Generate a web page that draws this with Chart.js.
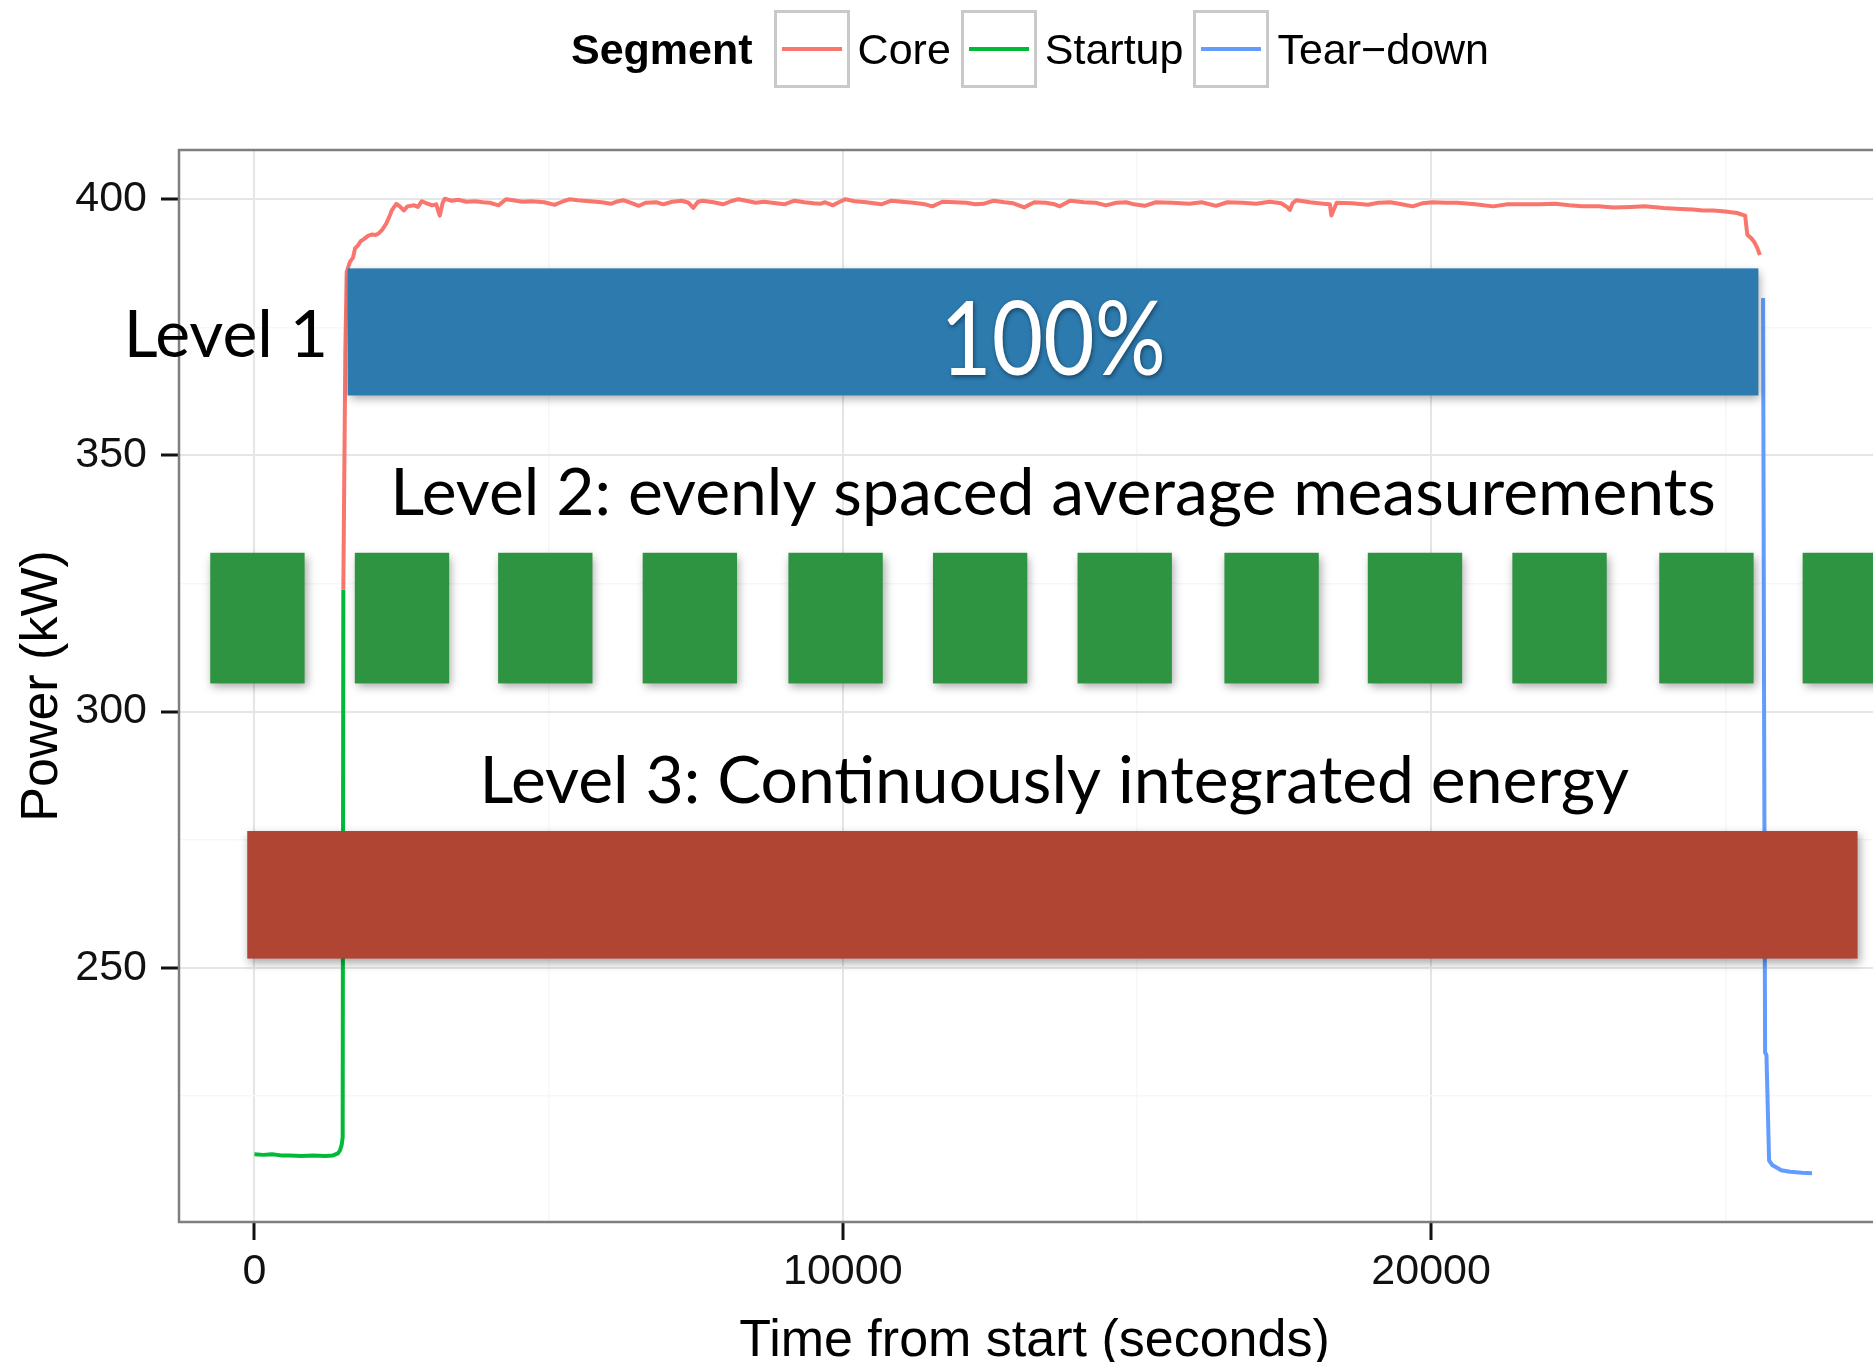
<!DOCTYPE html>
<html>
<head>
<meta charset="utf-8">
<script src="https://cdn.jsdelivr.net/npm/chart.js@4"></script>
<style>
  body { margin:0; background:#fff; overflow:hidden; }
  #wrap { position:relative; width:1873px; height:1362px; overflow:hidden; }
  #legend { position:absolute; left:571px; top:10px; height:78px; display:flex; align-items:center;
            font:43px "Liberation Sans", Arial, sans-serif; color:#000; }
  #legend b { margin-right:21px; }
  .key { width:70px; height:72px; border:3px solid #c9c9c9; display:flex; align-items:center; justify-content:center; margin-right:8px; }
  .key i { display:block; width:60px; height:4px; }
  .lab { margin-right:10px; }
</style>
</head>
<body>
<div id="wrap">
  <canvas id="powerChart" width="1892" height="1362"></canvas>
  <div id="legend"><b>Segment</b></div>
</div>
<script>
// series
const segNames = ['Core', 'Startup', 'Tear\u2212down'];
const segColors = ['#F8766D', '#00BA38', '#619CFF'];

const startupTime  = [0, 150, 300, 450, 600, 800, 1000, 1200, 1336, 1420, 1455, 1484, 1500, 1511];
const startupPower = [213.6, 213.5, 213.6, 213.4, 213.4, 213.3, 213.4, 213.3, 213.4, 213.8, 214.4, 215.5, 217, 323.8];

const coreTime = [1511, 1545, 1569, 1625, 1676, 1710, 1760, 1805, 1860, 1936, 2000, 2060, 2110, 2170, 2238, 2290, 2334, 2412, 2470, 2543,
  2600, 2716, 2780, 2845, 2930, 3019, 3090, 3150, 3200, 3236, 3350, 3466, 3600, 3750, 3886, 4000, 4148, 4277, 4400, 4550,
  4700, 4928, 5101, 5250, 5362, 5500, 5700, 5900, 6055, 6150, 6270, 6400, 6533, 6650, 6830, 6950, 7100, 7264, 7380, 7460,
  7540, 7617, 7800, 7964, 8100, 8225, 8400, 8520, 8659, 8800, 9006, 9180, 9350, 9500, 9613, 9700, 9830, 9950, 10047, 10200,
  10400, 10654, 10828, 11000, 11200, 11400, 11522, 11695, 11900, 12100, 12250, 12389, 12563, 12750, 12900, 13083, 13256, 13450, 13600, 13690,
  13864, 14100, 14298, 14471, 14650, 14818, 14950, 15132, 15322, 15600, 15891, 16100, 16346, 16536, 16800, 17026, 17257, 17450, 17560, 17599,
  17650, 17713, 17940, 18168, 18280, 18305, 18340, 18396, 18650, 18928, 19100, 19307, 19500, 19686, 19850, 20028, 20250, 20443, 20750, 21053,
  21300, 21582, 21850, 22116, 22350, 22568, 22850, 23102, 23400, 23632, 23950, 24241, 24450, 24618, 24800, 24998, 25200, 25338, 25360, 25377,
  25440, 25490, 25540, 25589];
const corePower = [323.8, 370, 385.8, 387.8, 388.6, 390.4, 391, 391.8, 392.2, 392.9, 393.1, 393.0, 393.3, 394.0, 395.2, 396.5, 397.8, 399.1, 398.6, 397.8,
  398.6, 398.8, 398.5, 399.6, 399.2, 398.8, 399.0, 396.8, 399.3, 400.1, 399.7, 399.9, 399.5, 399.6, 399.4, 399.3, 398.8, 400.0, 399.8, 399.5,
  399.6, 399.4, 398.9, 399.6, 400.0, 399.8, 399.6, 399.4, 399.1, 399.5, 399.8, 399.3, 398.7, 399.3, 399.4, 399.0, 399.5, 399.7, 399.3, 398.3,
  399.5, 399.7, 399.4, 399.0, 399.6, 400.0, 399.6, 399.3, 399.5, 399.3, 399.0, 399.7, 399.4, 399.2, 399.1, 399.4, 398.8, 399.5, 400.0, 399.6,
  399.4, 399.0, 399.7, 399.5, 399.3, 399.0, 398.6, 399.5, 399.4, 399.3, 399.0, 399.1, 399.7, 399.4, 399.2, 398.4, 399.4, 399.3, 399.0, 398.6,
  399.7, 399.4, 399.3, 398.8, 399.3, 399.4, 399.0, 398.7, 399.4, 399.3, 399.1, 399.4, 398.7, 399.4, 399.3, 399.1, 399.5, 399.2, 398.4, 397.9,
  399.3, 399.8, 399.4, 399.1, 399.0, 396.8, 397.8, 399.3, 399.2, 398.9, 399.3, 399.4, 399.0, 398.6, 399.2, 399.4, 399.3, 399.3, 399.0, 398.6,
  399.0, 399.0, 399.0, 399.1, 398.8, 398.6, 398.6, 398.4, 398.5, 398.6, 398.3, 398.1, 398.0, 397.8, 397.8, 397.6, 397.3, 396.8, 394.5, 393.0,
  392.4, 391.7, 390.6, 389.1];

const teardownTime  = [25643, 25660, 25677, 25700, 25745, 25800, 25880, 25950, 26102, 26300, 26474];
const teardownPower = [380.7, 300, 233.5, 233.0, 212.4, 211.5, 211.0, 210.5, 210.2, 210.0, 209.9];

// axes: grid positions, and which of them carry a label
const xGrid = [0, 5000, 10000, 15000, 20000, 25000];
const xTickLabels = [0, 10000, 20000];
const yGrid = [225, 250, 275, 300, 325, 350, 375, 400];
const yTickLabels = [250, 300, 350, 400];

// slide overlay boxes, in axis units
const levelBars = [
  { x0: 1584, x1: 25563, y0: 361.7, y1: 386.5, color: '#2c7aae' },
  { x0: -122, x1: 27249, y0: 251.8, y1: 276.7, color: '#b04534' }
];
const sampleStarts = [-751, 1706, 4142, 6599, 9076, 11533, 13990, 16487, 18924, 21381, 23878, 26315];
const sampleWidth = 1604;
const sampleLow = 305.5, sampleHigh = 331.0;

function pts(xs, ys) { return xs.map((t, i) => ({ x: t, y: ys[i] })); }

// legend
const legend = document.getElementById('legend');
segNames.forEach((n, i) => {
  legend.insertAdjacentHTML('beforeend',
    '<span class="key"><i style="background:' + segColors[i] + '"></i></span><span class="lab">' + n + '</span>');
});

const panelBorder = {
  id: 'panelBorder',
  beforeDatasetsDraw(chart) {
    const { ctx, chartArea: a } = chart;
    ctx.save();
    ctx.strokeStyle = '#7f7f7f';
    ctx.lineWidth = 2.5;
    ctx.strokeRect(a.left, a.top, a.right - a.left, a.bottom - a.top);
    ctx.restore();
  }
};

const overlay = {
  id: 'overlay',
  afterDatasetsDraw(chart) {
    const { ctx, scales: { x, y } } = chart;
    ctx.save();
    ctx.shadowColor = 'rgba(0,0,0,0.35)';
    ctx.shadowBlur = 9;
    ctx.shadowOffsetX = 2;
    ctx.shadowOffsetY = 4;
    const box = (x0, x1, y0, y1, c) => {
      const l = x.getPixelForValue(x0), r = x.getPixelForValue(x1);
      const t = y.getPixelForValue(y1), b = y.getPixelForValue(y0);
      ctx.fillStyle = c;
      ctx.fillRect(l, t, r - l, b - t);
    };
    levelBars.forEach(b => box(b.x0, b.x1, b.y0, b.y1, b.color));
    sampleStarts.forEach(s => box(s, s + sampleWidth, sampleLow, sampleHigh, '#2f9441'));

    ctx.shadowColor = 'transparent';
    ctx.fillStyle = '#000';
    ctx.textBaseline = 'alphabetic';
    ctx.font = '66px Lato';
    ctx.textAlign = 'right';
    ctx.fillText('Level 1', x.getPixelForValue(1251), y.getPixelForValue(369.3));
    ctx.textAlign = 'center';
    ctx.font = '66px Lato';
    ctx.fillText('Level 2: evenly spaced average measurements', x.getPixelForValue(13574), y.getPixelForValue(338.4));
    ctx.fillText('Level 3: Continuously integrated energy', x.getPixelForValue(13594), y.getPixelForValue(282.2));

    // white label on the blue bar, a little condensed
    ctx.shadowColor = 'rgba(0,0,0,0.45)';
    ctx.shadowBlur = 4;
    ctx.shadowOffsetX = 1;
    ctx.shadowOffsetY = 2;
    ctx.fillStyle = '#fff';
    ctx.font = '102px Lato';
    ctx.translate(x.getPixelForValue(13574), y.getPixelForValue(365.6));
    ctx.scale(0.87, 1);
    ctx.fillText('100%', 0, 0);
    ctx.restore();
  }
};

const tickFont = { family: '"Liberation Sans", Arial, sans-serif', size: 43 };
const xTitleFont = { family: '"Liberation Sans", Arial, sans-serif', size: 52, lineHeight: 0.78 };
const yTitleFont = { family: '"Liberation Sans", Arial, sans-serif', size: 52, lineHeight: 1 };

const ctx = document.getElementById('powerChart').getContext('2d');
const powerChart = new Chart(ctx, {
  type: 'line',
  data: {
    datasets: [
      { label: segNames[0], data: pts(coreTime, corePower), borderColor: segColors[0] },
      { label: segNames[1], data: pts(startupTime, startupPower), borderColor: segColors[1] },
      { label: segNames[2], data: pts(teardownTime, teardownPower), borderColor: segColors[2] }
    ]
  },
  options: {
    responsive: false,
    animation: false,
    events: [],
    layout: { padding: { top: 150, right: 2, left: 0, bottom: 0 } },
    elements: {
      point: { radius: 0 },
      line: { borderWidth: 4, tension: 0, borderJoinStyle: 'round', fill: false }
    },
    plugins: { legend: { display: false }, tooltip: { enabled: false } },
    scales: {
      x: {
        type: 'linear',
        min: -1282, max: 27800,
        afterFit: s => { s.height = 140; },
        afterBuildTicks: s => { s.ticks = xGrid.map(v => ({ value: v })); },
        border: { display: false },
        grid: {
          color: c => xTickLabels.includes(c.tick.value) ? '#e5e5e5' : '#f7f7f7',
          lineWidth: c => xTickLabels.includes(c.tick.value) ? 2 : 1.5,
          tickColor: c => xTickLabels.includes(c.tick.value) ? '#111' : 'rgba(0,0,0,0)',
          tickLength: 18, tickWidth: 3
        },
        ticks: {
          autoSkip: false, maxRotation: 0,
          padding: 6, color: '#111', font: tickFont,
          callback: v => xTickLabels.includes(v) ? String(v) : ''
        },
        title: { display: true, text: 'Time from start (seconds)', color: '#000', font: xTitleFont, padding: { top: 0, bottom: 0 } }
      },
      y: {
        type: 'linear',
        min: 200.4, max: 409.6,
        afterFit: s => { s.width = 179; },
        afterBuildTicks: s => { s.ticks = yGrid.map(v => ({ value: v })); },
        border: { display: false },
        grid: {
          color: c => yTickLabels.includes(c.tick.value) ? '#e5e5e5' : '#f7f7f7',
          lineWidth: c => yTickLabels.includes(c.tick.value) ? 2 : 1.5,
          tickColor: c => yTickLabels.includes(c.tick.value) ? '#111' : 'rgba(0,0,0,0)',
          tickLength: 18, tickWidth: 3
        },
        ticks: {
          autoSkip: false,
          padding: 14, color: '#111', font: tickFont,
          callback: v => yTickLabels.includes(v) ? String(v) : ''
        },
        title: { display: true, text: 'Power (kW)', color: '#000', font: yTitleFont, padding: { top: 17, bottom: 0 } }
      }
    }
  },
  plugins: [panelBorder, overlay]
});
</script>
</body>
</html>
